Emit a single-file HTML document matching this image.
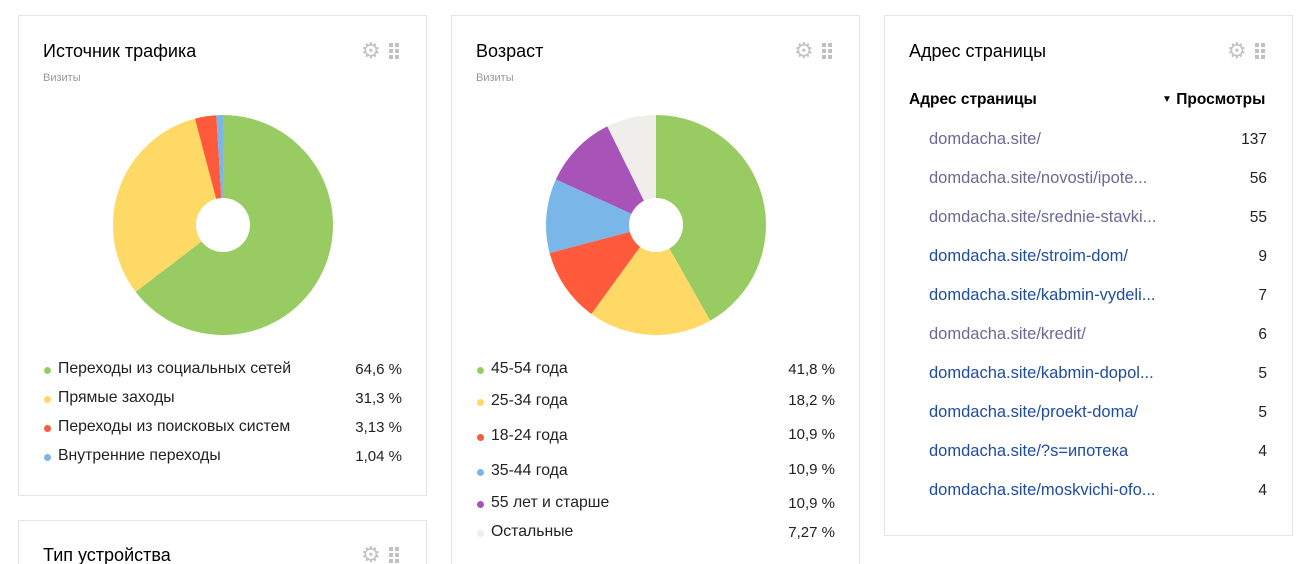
<!DOCTYPE html>
<html style="height:564px;overflow:hidden"><head><meta charset="utf-8">
<style>
html,body{margin:0;width:1297px;height:564px;overflow:hidden}
body{background:#fff;position:relative;font-family:"Liberation Sans","DejaVu Sans",sans-serif;color:#000}
.card{position:absolute;border:1px solid #e5e5e5;background:#fff;box-sizing:border-box}
.t{position:absolute;font-size:18px;white-space:nowrap}
.s{position:absolute;font-size:11px;color:#999}
.gear{position:absolute;font-size:22px;color:#c4c4c4;line-height:20px}
.dots{position:absolute;width:10px;height:16px}
.dots i{position:absolute;width:4px;height:4px;background:#c0c0c0}
.lg{position:absolute;font-size:15.8px;white-space:nowrap;color:#222}
.dot{position:absolute;width:7px;height:7px;border-radius:50%}
.v{position:absolute;font-size:15px;text-align:right;width:80px;color:#222}
.u{position:absolute;font-size:16.5px;white-space:nowrap}
.n{position:absolute;font-size:15.5px;text-align:right;width:60px;color:#222}
</style></head><body>
<div class="card" style="left:18px;top:15px;width:409px;height:481px"></div>
<div class="card" style="left:451px;top:15px;width:409px;height:560px"></div>
<div class="card" style="left:884px;top:15px;width:409px;height:521px"></div>
<div class="card" style="left:18px;top:520px;width:409px;height:60px"></div>

<div class="t" style="left:43px;top:41px">Источник трафика</div>
<div class="s" style="left:43px;top:72px">Визиты</div>
<div class="t" style="left:476px;top:41px">Возраст</div>
<div class="s" style="left:476px;top:72px">Визиты</div>
<div class="t" style="left:909px;top:41px">Адрес страницы</div>
<div class="t" style="left:43px;top:545px">Тип устройства</div>

<div id="icons"></div>

<svg id="p" width="1297" height="564" style="position:absolute;left:0;top:0"></svg>

<div class="dot" style="left:44px;top:367px;background:#98cc63"></div><div class="lg" style="left:58px;top:360px">Переходы из социальных сетей</div><div class="v" style="left:322px;top:361px">64,6 %</div>
<div class="dot" style="left:44px;top:396px;background:#ffd966"></div><div class="lg" style="left:58px;top:389px">Прямые заходы</div><div class="v" style="left:322px;top:390px">31,3 %</div>
<div class="dot" style="left:44px;top:425px;background:#ff5a3c"></div><div class="lg" style="left:58px;top:418px">Переходы из поисковых систем</div><div class="v" style="left:322px;top:419px">3,13 %</div>
<div class="dot" style="left:44px;top:454px;background:#7ab6e8"></div><div class="lg" style="left:58px;top:447px">Внутренние переходы</div><div class="v" style="left:322px;top:448px">1,04 %</div>

<div class="dot" style="left:477px;top:367px;background:#98cc63"></div><div class="lg" style="left:491px;top:360px">45-54 года</div><div class="v" style="left:755px;top:361px">41,8 %</div>
<div class="dot" style="left:477px;top:399px;background:#ffd966"></div><div class="lg" style="left:491px;top:392px">25-34 года</div><div class="v" style="left:755px;top:392px">18,2 %</div>
<div class="dot" style="left:477px;top:434px;background:#ff5a3c"></div><div class="lg" style="left:491px;top:427px">18-24 года</div><div class="v" style="left:755px;top:426px">10,9 %</div>
<div class="dot" style="left:477px;top:469px;background:#7ab6e8"></div><div class="lg" style="left:491px;top:462px">35-44 года</div><div class="v" style="left:755px;top:461px">10,9 %</div>
<div class="dot" style="left:477px;top:501px;background:#a753b8"></div><div class="lg" style="left:491px;top:494px">55 лет и старше</div><div class="v" style="left:755px;top:495px">10,9 %</div>
<div class="dot" style="left:477px;top:530px;background:#efeeea"></div><div class="lg" style="left:491px;top:523px">Остальные</div><div class="v" style="left:755px;top:524px">7,27 %</div>

<div class="u" style="left:909px;top:91px;font-weight:bold;font-size:15.5px">Адрес страницы</div>
<div class="u" style="left:1162px;top:91px;font-weight:bold;font-size:15.5px"><span style="font-size:10px;vertical-align:2px">▼</span> Просмотры</div>
<div id="rows"></div>

<script>
var svg=document.getElementById('p'),ns='http://www.w3.org/2000/svg';
function pie(cx,cy,r,h,data){var a=0;data.forEach(function(d){var a2=a+d[0]/100*Math.PI*2;
var x1=cx+r*Math.sin(a),y1=cy-r*Math.cos(a),x2=cx+r*Math.sin(a2),y2=cy-r*Math.cos(a2);
var p=document.createElementNS(ns,'path');p.setAttribute('d','M'+cx+','+cy+'L'+x1+','+y1+'A'+r+','+r+' 0 '+((a2-a)>Math.PI?1:0)+' 1 '+x2+','+y2+'Z');
p.setAttribute('fill',d[1]);svg.appendChild(p);a=a2;});
var c=document.createElementNS(ns,'circle');c.setAttribute('cx',cx);c.setAttribute('cy',cy);c.setAttribute('r',h);c.setAttribute('fill','#fff');svg.appendChild(c);}
pie(223,225,110,27,[[64.6,'#98cc63'],[31.3,'#ffd966'],[3.13,'#ff5a3c'],[0.97,'#7ab6e8']]);
pie(656,225,110,27,[[41.8,'#98cc63'],[18.2,'#ffd966'],[10.9,'#ff5a3c'],[10.9,'#7ab6e8'],[10.9,'#a753b8'],[7.3,'#efeeea']]);
var ic='';[[361,43],[794,43],[1227,43],[361,547]].forEach(function(q){
ic+='<div class="gear" style="left:'+q[0]+'px;top:'+(q[1]-2)+'px">⚙</div><div class="dots" style="left:'+(q[0]+28)+'px;top:'+q[1]+'px"><i style="left:0;top:0"></i><i style="left:6px;top:0"></i><i style="left:0;top:6px"></i><i style="left:6px;top:6px"></i><i style="left:0;top:12px"></i><i style="left:6px;top:12px"></i></div>';});
document.getElementById('icons').innerHTML=ic;
var rows=[['domdacha.site/','137',1],['domdacha.site/novosti/ipote...','56',1],['domdacha.site/srednie-stavki...','55',1],['domdacha.site/stroim-dom/','9',0],['domdacha.site/kabmin-vydeli...','7',0],['domdacha.site/kredit/','6',1],['domdacha.site/kabmin-dopol...','5',0],['domdacha.site/proekt-doma/','5',0],['domdacha.site/?s=ипотека','4',0],['domdacha.site/moskvichi-ofo...','4',0]];
var h='';rows.forEach(function(r,i){var y=130+i*39;
h+='<div class="u" style="left:929px;top:'+y+'px;color:'+(r[2]?'#6b6a95':'#1f4ca3')+'">'+r[0]+'</div><div class="n" style="left:1207px;top:'+(y+1)+'px">'+r[1]+'</div>';});
document.getElementById('rows').innerHTML=h;
</script>
</body></html>
